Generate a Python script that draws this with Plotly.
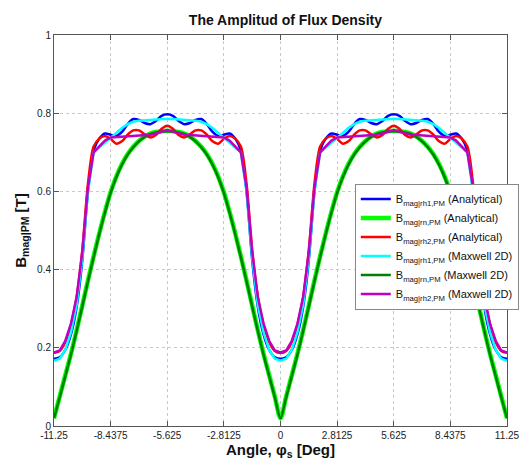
import plotly.graph_objects as go

# Angle grid [deg]
angle = [-11.25 + 0.28125 * i for i in range(81)]

tick_vals = [-11.25, -8.4375, -5.625, -2.8125, 0, 2.8125, 5.625, 8.4375, 11.25]
tick_text = ["-11.25", "-8.4375", "-5.625", "-2.8125", "0", "2.8125", "5.625", "8.4375", "11.25"]
ytick_vals = [0, 0.2, 0.4, 0.6, 0.8, 1]
ytick_text = ["0", "0.2", "0.4", "0.6", "0.8", "1"]

# B_mag|rh1,PM (Analytical)
b_rh1_an = [0.172, 0.176, 0.195, 0.235, 0.305, 0.425, 0.60, 0.705, 0.735, 0.748, 0.745, 0.742, 0.752, 0.772, 0.785, 0.783, 0.775, 0.772, 0.780, 0.793, 0.797,
            0.793, 0.780, 0.772, 0.775, 0.783, 0.785, 0.772, 0.752, 0.742, 0.745, 0.748, 0.735, 0.705, 0.60, 0.425, 0.305, 0.235, 0.195, 0.176, 0.172,
            0.176, 0.195, 0.235, 0.305, 0.425, 0.60, 0.705, 0.735, 0.748, 0.745, 0.742, 0.752, 0.772, 0.785, 0.783, 0.775, 0.772, 0.780, 0.793, 0.797,
            0.793, 0.780, 0.772, 0.775, 0.783, 0.785, 0.772, 0.752, 0.742, 0.745, 0.748, 0.735, 0.705, 0.60, 0.425, 0.305, 0.235, 0.195, 0.176, 0.172]

# B_mag|rn,PM (Analytical)
b_rn_an = [0.02, 0.075, 0.13, 0.185, 0.245, 0.308, 0.372, 0.434, 0.493, 0.548, 0.598, 0.638, 0.670, 0.695, 0.714, 0.729, 0.740, 0.748, 0.752, 0.754, 0.755,
           0.754, 0.752, 0.748, 0.740, 0.729, 0.714, 0.695, 0.670, 0.638, 0.598, 0.548, 0.493, 0.434, 0.372, 0.308, 0.245, 0.185, 0.13, 0.075, 0.02,
           0.075, 0.13, 0.185, 0.245, 0.308, 0.372, 0.434, 0.493, 0.548, 0.598, 0.638, 0.670, 0.695, 0.714, 0.729, 0.740, 0.748, 0.752, 0.754, 0.755,
           0.754, 0.752, 0.748, 0.740, 0.729, 0.714, 0.695, 0.670, 0.638, 0.598, 0.548, 0.493, 0.434, 0.372, 0.308, 0.245, 0.185, 0.13, 0.075, 0.02]

# B_mag|rh2,PM (Analytical)
b_rh2_an = [0.187, 0.192, 0.215, 0.26, 0.33, 0.45, 0.62, 0.715, 0.735, 0.742, 0.734, 0.722, 0.728, 0.745, 0.756, 0.756, 0.746, 0.738, 0.744, 0.760, 0.768,
            0.760, 0.744, 0.738, 0.746, 0.756, 0.756, 0.745, 0.728, 0.722, 0.734, 0.742, 0.735, 0.715, 0.62, 0.45, 0.33, 0.26, 0.215, 0.192, 0.187,
            0.192, 0.215, 0.26, 0.33, 0.45, 0.62, 0.715, 0.735, 0.742, 0.734, 0.722, 0.728, 0.745, 0.756, 0.756, 0.746, 0.738, 0.744, 0.760, 0.768,
            0.760, 0.744, 0.738, 0.746, 0.756, 0.756, 0.745, 0.728, 0.722, 0.734, 0.742, 0.735, 0.715, 0.62, 0.45, 0.33, 0.26, 0.215, 0.192, 0.187]

# B_mag|rh1,PM (Maxwell 2D)
b_rh1_mx = [0.167, 0.172, 0.195, 0.24, 0.31, 0.43, 0.60, 0.70, 0.712, 0.725, 0.738, 0.750, 0.762, 0.772, 0.778, 0.781, 0.782, 0.783, 0.784, 0.785, 0.786,
            0.785, 0.784, 0.783, 0.782, 0.781, 0.778, 0.772, 0.762, 0.750, 0.738, 0.725, 0.712, 0.70, 0.60, 0.43, 0.31, 0.24, 0.195, 0.172, 0.167,
            0.172, 0.195, 0.24, 0.31, 0.43, 0.60, 0.70, 0.712, 0.725, 0.738, 0.750, 0.762, 0.772, 0.778, 0.781, 0.782, 0.783, 0.784, 0.785, 0.786,
            0.785, 0.784, 0.783, 0.782, 0.781, 0.778, 0.772, 0.762, 0.750, 0.738, 0.725, 0.712, 0.70, 0.60, 0.43, 0.31, 0.24, 0.195, 0.172, 0.167]

# B_mag|rn,PM (Maxwell 2D)
b_rn_mx = [0.02, 0.073, 0.128, 0.183, 0.243, 0.306, 0.370, 0.432, 0.491, 0.546, 0.596, 0.636, 0.668, 0.694, 0.713, 0.728, 0.739, 0.747, 0.751, 0.753, 0.754,
           0.753, 0.751, 0.747, 0.739, 0.728, 0.713, 0.694, 0.668, 0.636, 0.596, 0.546, 0.491, 0.432, 0.370, 0.306, 0.243, 0.183, 0.128, 0.073, 0.02,
           0.073, 0.128, 0.183, 0.243, 0.306, 0.370, 0.432, 0.491, 0.546, 0.596, 0.636, 0.668, 0.694, 0.713, 0.728, 0.739, 0.747, 0.751, 0.753, 0.754,
           0.753, 0.751, 0.747, 0.739, 0.728, 0.713, 0.694, 0.668, 0.636, 0.596, 0.546, 0.491, 0.432, 0.370, 0.306, 0.243, 0.183, 0.128, 0.073, 0.02]

# B_mag|rh2,PM (Maxwell 2D)
b_rh2_mx = [0.188, 0.193, 0.218, 0.262, 0.33, 0.445, 0.61, 0.70, 0.715, 0.73, 0.738, 0.739, 0.740, 0.741, 0.742, 0.743, 0.744, 0.745, 0.748, 0.753, 0.757,
            0.753, 0.748, 0.745, 0.744, 0.743, 0.742, 0.741, 0.740, 0.739, 0.738, 0.73, 0.715, 0.70, 0.61, 0.445, 0.33, 0.262, 0.218, 0.193, 0.188,
            0.193, 0.218, 0.262, 0.33, 0.445, 0.61, 0.70, 0.715, 0.73, 0.738, 0.739, 0.740, 0.741, 0.742, 0.743, 0.744, 0.745, 0.748, 0.753, 0.757,
            0.753, 0.748, 0.745, 0.744, 0.743, 0.742, 0.741, 0.740, 0.739, 0.738, 0.73, 0.715, 0.70, 0.61, 0.445, 0.33, 0.262, 0.218, 0.193, 0.188]

series = [
    ("B<sub>mag|rh1,PM</sub> (Analytical)", b_rh1_an, "#0000ff", 2.5, "spline"),
    ("B<sub>mag|rn,PM</sub> (Analytical)", b_rn_an, "#00ff00", 4.5, "spline"),
    ("B<sub>mag|rh2,PM</sub> (Analytical)", b_rh2_an, "#ff0000", 2.5, "spline"),
    ("B<sub>mag|rh1,PM</sub> (Maxwell 2D)", b_rh1_mx, "#00ffff", 2.5, "linear"),
    ("B<sub>mag|rn,PM</sub> (Maxwell 2D)", b_rn_mx, "#008000", 2.5, "spline"),
    ("B<sub>mag|rh2,PM</sub> (Maxwell 2D)", b_rh2_mx, "#bf00bf", 2.5, "linear"),
]

fig = go.Figure()
for name, vals, color, width, shape in series:
    line = dict(color=color, width=width, shape=shape)
    if shape == "spline":
        line["smoothing"] = 0.8
    fig.add_trace(go.Scatter(x=angle, y=vals, mode="lines", name=name, line=line))

font_family = "Liberation Sans, Arial, sans-serif"
axis_common = dict(
    showline=True, linecolor="#555555", linewidth=1, mirror="allticks",
    ticks="inside", ticklen=5, tickcolor="#555555",
    showgrid=True, gridcolor="#c8c8c8", griddash="dot", gridwidth=1,
    zeroline=False, tickfont=dict(size=10, color="#222222", family=font_family),
)

fig.update_layout(
    width=532, height=468,
    margin=dict(l=54, r=15, t=35, b=38),
    paper_bgcolor="white", plot_bgcolor="white",
    font=dict(family=font_family, color="#111111"),
    title=dict(text="<b>The Amplitud of Flux Density</b>", x=0.5365, xanchor="center",
               y=0.957, yanchor="middle", font=dict(size=14, color="#111111")),
    xaxis=dict(range=[-11.25, 11.25], tickvals=tick_vals, ticktext=tick_text,
               title=dict(text="<b>Angle, φ<sub>s</sub> [Deg]</b>", standoff=4,
                          font=dict(size=15, color="#111111")),
               **axis_common),
    yaxis=dict(range=[0, 1], tickvals=ytick_vals, ticktext=ytick_text,
               title=dict(text="<b>B<sub>mag|PM</sub> [T]</b>", standoff=6,
                          font=dict(size=15, color="#111111")),
               **axis_common),
    legend=dict(x=0.664, y=0.62, xanchor="left", yanchor="top",
                bgcolor="white", bordercolor="#888888", borderwidth=1,
                font=dict(size=11, color="#111111", family=font_family),
                itemwidth=30, tracegroupgap=0),
    showlegend=True,
)

fig.write_html("out.html")
